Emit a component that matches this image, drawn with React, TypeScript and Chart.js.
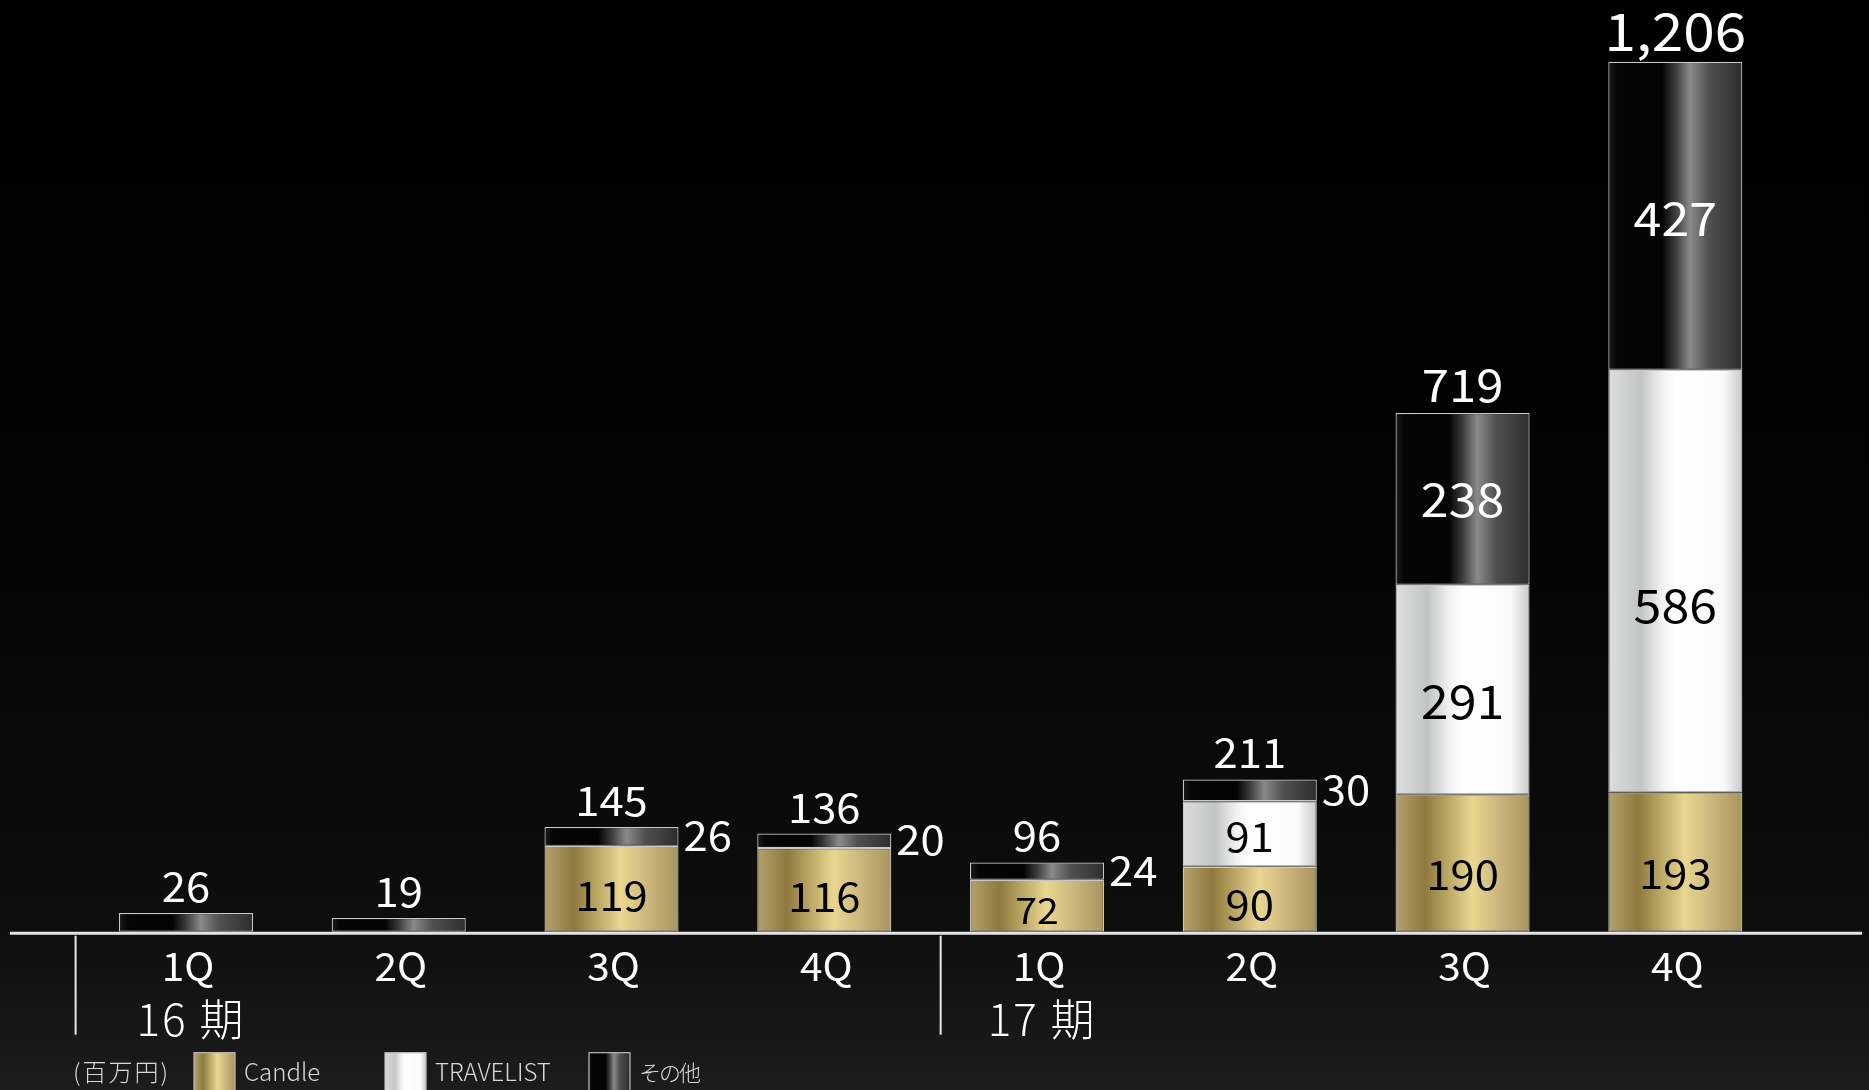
import { useEffect, useRef } from 'react';
import { Chart, registerables } from 'chart.js';

Chart.register(...registerables);

// Quarterly sales by brand (millions of yen), FY16–FY17
const quarters = ['1Q', '2Q', '3Q', '4Q', '1Q', '2Q', '3Q', '4Q'];
const periods = ['16 期', '17 期'];
const periodStarts = [0, 4];
const candle = [null, null, 119, 116, 72, 90, 190, 193];
const travelist = [null, null, null, null, null, 91, 291, 586];
const others = [26, 19, 26, 20, 24, 30, 238, 427];
const seriesNames = ['Candle', 'TRAVELIST', 'その他'];
const unitLabel = '(百万円)';

const W = 1869;
const H = 1090;
const FONT = '"Noto Sans CJK JP", "Noto Sans", sans-serif';
const BAR_PCT = 0.63;
const NUM_STRETCH = 1.09;

type Stops = [number, string][];
const goldStops: Stops = [
  [0, '#b5a26e'], [0.22, '#8e7a3e'], [0.57, '#e9d690'], [0.76, '#cdb97e'], [1, '#a8945e'],
];
const silverStops: Stops = [
  [0, '#dddddd'], [0.24, '#c3c5c5'], [0.4, '#f1f1f1'], [0.5, '#ffffff'], [0.86, '#fafafa'], [1, '#c9c9c9'],
];
const blackStops: Stops = [
  [0, '#1d1d1d'], [0.06, '#060606'], [0.4, '#030303'], [0.5, '#3c3c3c'], [0.61, '#8a8a8a'], [0.75, '#505050'], [1, '#2d2d2d'],
];
const stopsBySeries = [goldStops, silverStops, blackStops];
const innerTextColor = ['#000000', '#000000', '#ffffff'];
// where an inner value label sits within its segment, measured from the top
const innerLabelPos = [0.59, 0.56, 0.51];

function hGradient(ctx: CanvasRenderingContext2D, x0: number, x1: number, stops: Stops) {
  const g = ctx.createLinearGradient(x0, 0, x1, 0);
  stops.forEach(([o, c]) => g.addColorStop(o, c));
  return g;
}

function barFill(stops: Stops) {
  return (context: any) => {
    const chart = context.chart;
    const xs = chart.scales?.x;
    if (!chart.chartArea || !xs) return stops[0][1];
    const cx = xs.getPixelForValue(context.dataIndex);
    const cat = (chart.chartArea.right - chart.chartArea.left) / quarters.length;
    const w = cat * BAR_PCT;
    return hGradient(chart.ctx, cx - w / 2, cx + w / 2, stops);
  };
}

const font = (size: number, weight = 400) => `${weight} ${size}px ${FONT}`;

// draws text with a horizontal stretch, anchored per the current textAlign
function stretchedText(c: CanvasRenderingContext2D, text: string, x: number, y: number, sx: number) {
  c.save();
  c.translate(x, y);
  c.scale(sx, 1);
  c.fillText(text, 0, 0);
  c.restore();
}

const backdrop = {
  id: 'backdrop',
  beforeDraw(chart: any) {
    const c = chart.ctx as CanvasRenderingContext2D;
    const g = c.createLinearGradient(0, 0, 0, chart.height);
    g.addColorStop(0, '#000000');
    g.addColorStop(0.45, '#030303');
    g.addColorStop(0.85, '#0e0e0e');
    g.addColorStop(1, '#1c1c1c');
    c.save();
    c.fillStyle = g;
    c.fillRect(0, 0, chart.width, chart.height);
    c.restore();
  },
};

const decorations = {
  id: 'decorations',
  afterDatasetsDraw(chart: any) {
    const c = chart.ctx as CanvasRenderingContext2D;
    const xs = chart.scales.x;
    const ys = chart.scales.y;
    const area = chart.chartArea;
    const base = ys.getPixelForValue(0);
    c.save();

    // segment labels
    chart.data.datasets.forEach((ds: any, di: number) => {
      const meta = chart.getDatasetMeta(di);
      meta.data.forEach((bar: any, i: number) => {
        const v = ds.data[i];
        if (v == null) return;
        const p = bar.getProps(['x', 'y', 'base', 'width'], true);
        const top = Math.min(p.y, p.base);
        const bottom = Math.max(p.y, p.base);
        const h = bottom - top;
        const onlySegment = chart.data.datasets.every((d: any, k: number) => k === di || d.data[i] == null);
        if (onlySegment) return;
        c.textBaseline = 'alphabetic';
        if (h < 40) {
          const size = 40;
          c.font = font(size);
          c.fillStyle = '#ffffff';
          c.textAlign = 'left';
          stretchedText(c, String(v), p.x + p.width / 2 + 5, (top + bottom) / 2 + size * 0.365, NUM_STRETCH);
        } else {
          const size = h < 60 ? 36 : h < 150 ? 40 : 46;
          c.font = font(size);
          c.fillStyle = innerTextColor[di];
          c.textAlign = 'center';
          stretchedText(c, String(v), p.x, top + h * innerLabelPos[di] + size * 0.365, NUM_STRETCH);
        }
      });
    });

    // totals above each stack
    quarters.forEach((_, i) => {
      const total = [candle[i], travelist[i], others[i]].reduce((s: number, v) => s + (v ?? 0), 0);
      const top = ys.getPixelForValue(total);
      const size = total > 1000 ? 52 : total > 500 ? 45 : 40;
      c.font = font(size);
      c.fillStyle = '#ffffff';
      c.textAlign = 'center';
      c.textBaseline = 'alphabetic';
      stretchedText(c, total.toLocaleString('en-US'), xs.getPixelForValue(i), top - 11, NUM_STRETCH);
    });

    // baseline
    c.strokeStyle = '#e4e4e4';
    c.lineWidth = 3;
    c.beginPath();
    c.moveTo(10, base + 1.5);
    c.lineTo(chart.width - 7, base + 1.5);
    c.stroke();

    // period separators
    const cat = (area.right - area.left) / quarters.length;
    const sepX = periodStarts.map((s) => (s === 0 ? area.left - 4 : xs.getPixelForValue(s) - cat / 2 + 10));
    c.strokeStyle = '#e8e8e8';
    c.lineWidth = 2;
    sepX.forEach((sx) => {
      c.beginPath();
      c.moveTo(sx, base + 4);
      c.lineTo(sx, base + 103);
      c.stroke();
    });

    // quarter labels
    c.font = font(39);
    c.fillStyle = '#ffffff';
    c.textAlign = 'center';
    c.textBaseline = 'alphabetic';
    quarters.forEach((q, i) => stretchedText(c, q, xs.getPixelForValue(i) + 2, base + 49, 1.04));

    // period labels
    c.font = font(44, 300);
    (c as any).letterSpacing = '2px';
    periods.forEach((p, k) => c.fillText(p, xs.getPixelForValue(periodStarts[k]) + 5, base + 104));
    (c as any).letterSpacing = '0px';

    // legend
    c.font = font(24, 300);
    c.fillStyle = '#d8d8d8';
    c.textAlign = 'left';
    c.textBaseline = 'alphabetic';
    const ly = base + 149;
    (c as any).letterSpacing = '2px';
    c.fillText(unitLabel, 73, ly);
    (c as any).letterSpacing = '0px';
    const swX = [194, 385, 589];
    seriesNames.forEach((name, k) => {
      const sx = swX[k];
      c.fillStyle = hGradient(c, sx, sx + 41, stopsBySeries[k]);
      c.fillRect(sx, base + 121, 41, 42);
      c.strokeStyle = '#bdbdbd';
      c.lineWidth = 1.2;
      c.strokeRect(sx, base + 121, 41, 42);
      c.fillStyle = '#d8d8d8';
      const narrow = /[^\x00-\x7f]/.test(name);
      c.font = font(narrow ? 22 : 24, 300);
      (c as any).letterSpacing = narrow ? '-2px' : '0px';
      c.fillText(name, sx + 50, ly);
      (c as any).letterSpacing = '0px';
    });

    c.restore();
  },
};

export default function App() {
  const ref = useRef<HTMLCanvasElement | null>(null);

  useEffect(() => {
    document.body.style.margin = '0';
    document.body.style.background = '#000';
    const canvas = ref.current;
    if (!canvas) return;
    const mk = (label: string, data: (number | null)[], k: number) => ({
      label,
      data,
      backgroundColor: barFill(stopsBySeries[k]),
      borderColor: '#c8c8c8',
      borderWidth: 1.2,
      borderSkipped: false,
      categoryPercentage: 1,
      barPercentage: BAR_PCT,
    });
    const chart = new Chart(canvas, {
      type: 'bar',
      data: {
        labels: quarters,
        datasets: [
          mk(seriesNames[0], candle, 0),
          mk(seriesNames[1], travelist, 1),
          mk(seriesNames[2], others, 2),
        ],
      },
      options: {
        responsive: false,
        animation: false,
        devicePixelRatio: 1,
        layout: { padding: { left: 79.6, right: 87.3, top: 8.3, bottom: 158.3 } },
        plugins: { legend: { display: false }, tooltip: { enabled: false } },
        scales: {
          x: { stacked: true, display: false },
          y: { stacked: true, display: false, min: 0, max: 1280 },
        },
      },
      plugins: [backdrop, decorations],
    } as any);
    return () => chart.destroy();
  }, []);

  return (
    <div style={{ width: W, height: H, background: '#000' }}>
      <canvas ref={ref} width={W} height={H} style={{ display: 'block' }} />
    </div>
  );
}
